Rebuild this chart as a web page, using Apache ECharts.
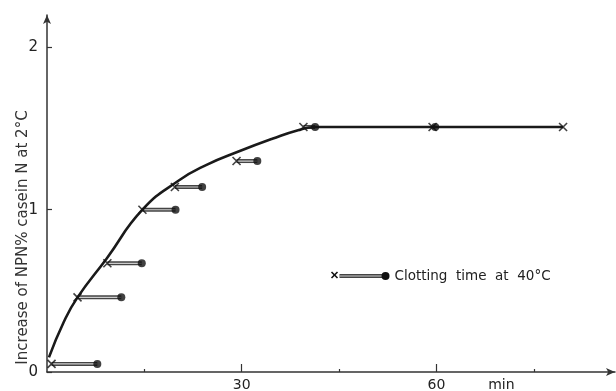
<!DOCTYPE html>
<html>
<head>
<meta charset="utf-8">
<script src="https://cdn.jsdelivr.net/npm/echarts@6/dist/echarts.min.js"></script>
<style>
  html, body { margin: 0; padding: 0; background: #fff; }
  #chart { width: 616px; height: 391px; }
</style>
</head>
<body>
<div id="chart"></div>
<script>
// NPN increase (x marks) and clotting time at 40°C (dots)
var crossX = [0.7, 4.7, 9.3, 14.7, 19.7, 29.2, 39.5, 59.4, 79.5];
var dotX   = [7.75, 11.45, 14.6, 19.8, 23.9, 32.4, 41.3, 59.8, null];
var npnY   = [0.05, 0.46, 0.67, 1.0, 1.14, 1.30, 1.51, 1.51, 1.51];

// fitted curve
var curveX = [0.3, 2.6, 4.7, 9.2, 14.7, 20.3, 24.5, 29.6, 34.7, 38.8, 41.3, 59.8, 79.5];
var curveY = [0.09, 0.31, 0.46, 0.70, 1.0, 1.18, 1.275, 1.36, 1.437, 1.492, 1.51, 1.51, 1.51];

var xTickMajor = [30, 60];
var xTickMinor = [15, 45, 75];
var yTicks = [0, 1, 2];

var ink = '#222';
var font = 'DejaVu Sans';
var crossPath = 'path://M0,0L10,10M10,0L0,10';

var curveData = curveX.map(function (x, i) { return [x, curveY[i]]; });
var crossData = crossX.map(function (x, i) { return [x, npnY[i]]; });
var dotData = [];
var series = [];

// double-line connectors between the x mark and the dot
crossX.forEach(function (x, i) {
    if (dotX[i] == null) return;
    dotData.push([dotX[i], npnY[i]]);
    var seg = [[x, npnY[i]], [dotX[i], npnY[i]]];
    series.push({
        type: 'line', data: seg, symbol: 'none', silent: true, z: 2,
        lineStyle: { color: '#444', width: 4 }
    });
    series.push({
        type: 'line', data: seg, symbol: 'none', silent: true, z: 3,
        lineStyle: { color: '#ccc', width: 1.2 }
    });
});

series.push({
    type: 'line', data: curveData, smooth: 0.5, symbol: 'none', z: 4,
    lineStyle: { color: '#1a1a1a', width: 2.6 }
});
series.push({
    type: 'scatter', data: crossData, symbol: crossPath, symbolSize: 8, z: 6,
    itemStyle: { color: 'rgba(0,0,0,0)', borderColor: '#111', borderWidth: 1.6 }
});
series.push({
    type: 'scatter', data: dotData, symbol: 'circle', symbolSize: 8, z: 6,
    itemStyle: { color: '#111' }
});

var chart = echarts.init(document.getElementById('chart'));
chart.setOption({
    animation: false,
    backgroundColor: '#fff',
    textStyle: { fontFamily: font },
    grid: { left: 47, right: 1, top: 15, bottom: 19, outerBoundsMode: 'none' },
    xAxis: [{
        type: 'value', min: 0, max: 87.5, interval: 15,
        axisLine: { lineStyle: { color: '#333', width: 1.5 }, symbol: ['none', 'arrow'], symbolSize: [6, 9] },
        axisTick: { inside: true, length: 3, customValues: xTickMinor, lineStyle: { color: '#333', width: 1.2 } },
        axisLabel: { show: false },
        splitLine: { show: false }
    }, {
        type: 'value', min: 0, max: 87.5, interval: 15, position: 'bottom',
        axisLine: { show: false },
        axisTick: { inside: true, length: 8, customValues: xTickMajor, lineStyle: { color: '#333', width: 1.2 } },
        axisLabel: {
            customValues: xTickMajor.concat([70]), margin: 6,
            color: ink, fontSize: 14, fontFamily: font,
            formatter: function (v) { return v === 70 ? 'min' : String(v); }
        },
        splitLine: { show: false }
    }],
    yAxis: {
        type: 'value', min: 0, max: 2.2, interval: 1,
        name: 'Increase of NPN% casein N at 2°C',
        nameLocation: 'middle', nameGap: 16, nameMoveOverlap: false,
        nameTextStyle: { color: '#333', fontSize: 15, fontFamily: font, padding: [0, 88, 0, 0] },
        axisLine: { lineStyle: { color: '#333', width: 1.5 }, symbol: ['none', 'arrow'], symbolSize: [6, 9] },
        axisTick: { inside: true, length: 5, customValues: yTicks, lineStyle: { color: '#333', width: 1.2 } },
        axisLabel: { customValues: yTicks, margin: 9, color: ink, fontSize: 15, fontFamily: font },
        splitLine: { show: false }
    },
    graphic: [{
        type: 'group', left: 329, top: 269,
        children: [
            { type: 'line', shape: { x1: 9, y1: 6, x2: 52, y2: 6 }, style: { stroke: '#444', lineWidth: 4 } },
            { type: 'line', shape: { x1: 9, y1: 6, x2: 52, y2: 6 }, style: { stroke: '#ccc', lineWidth: 1.2 } },
            { type: 'line', shape: { x1: 1, y1: 2, x2: 7, y2: 8 }, style: { stroke: '#111', lineWidth: 1.6 } },
            { type: 'line', shape: { x1: 7, y1: 2, x2: 1, y2: 8 }, style: { stroke: '#111', lineWidth: 1.6 } },
            { type: 'circle', shape: { cx: 55, cy: 6, r: 4 }, style: { fill: '#111' } },
            { type: 'text', x: 64, y: 6, style: { text: 'Clotting  time  at  40°C', fill: ink, fontSize: 13.5, fontFamily: font, verticalAlign: 'middle' } }
        ]
    }],
    series: series
});
</script>
</body>
</html>
